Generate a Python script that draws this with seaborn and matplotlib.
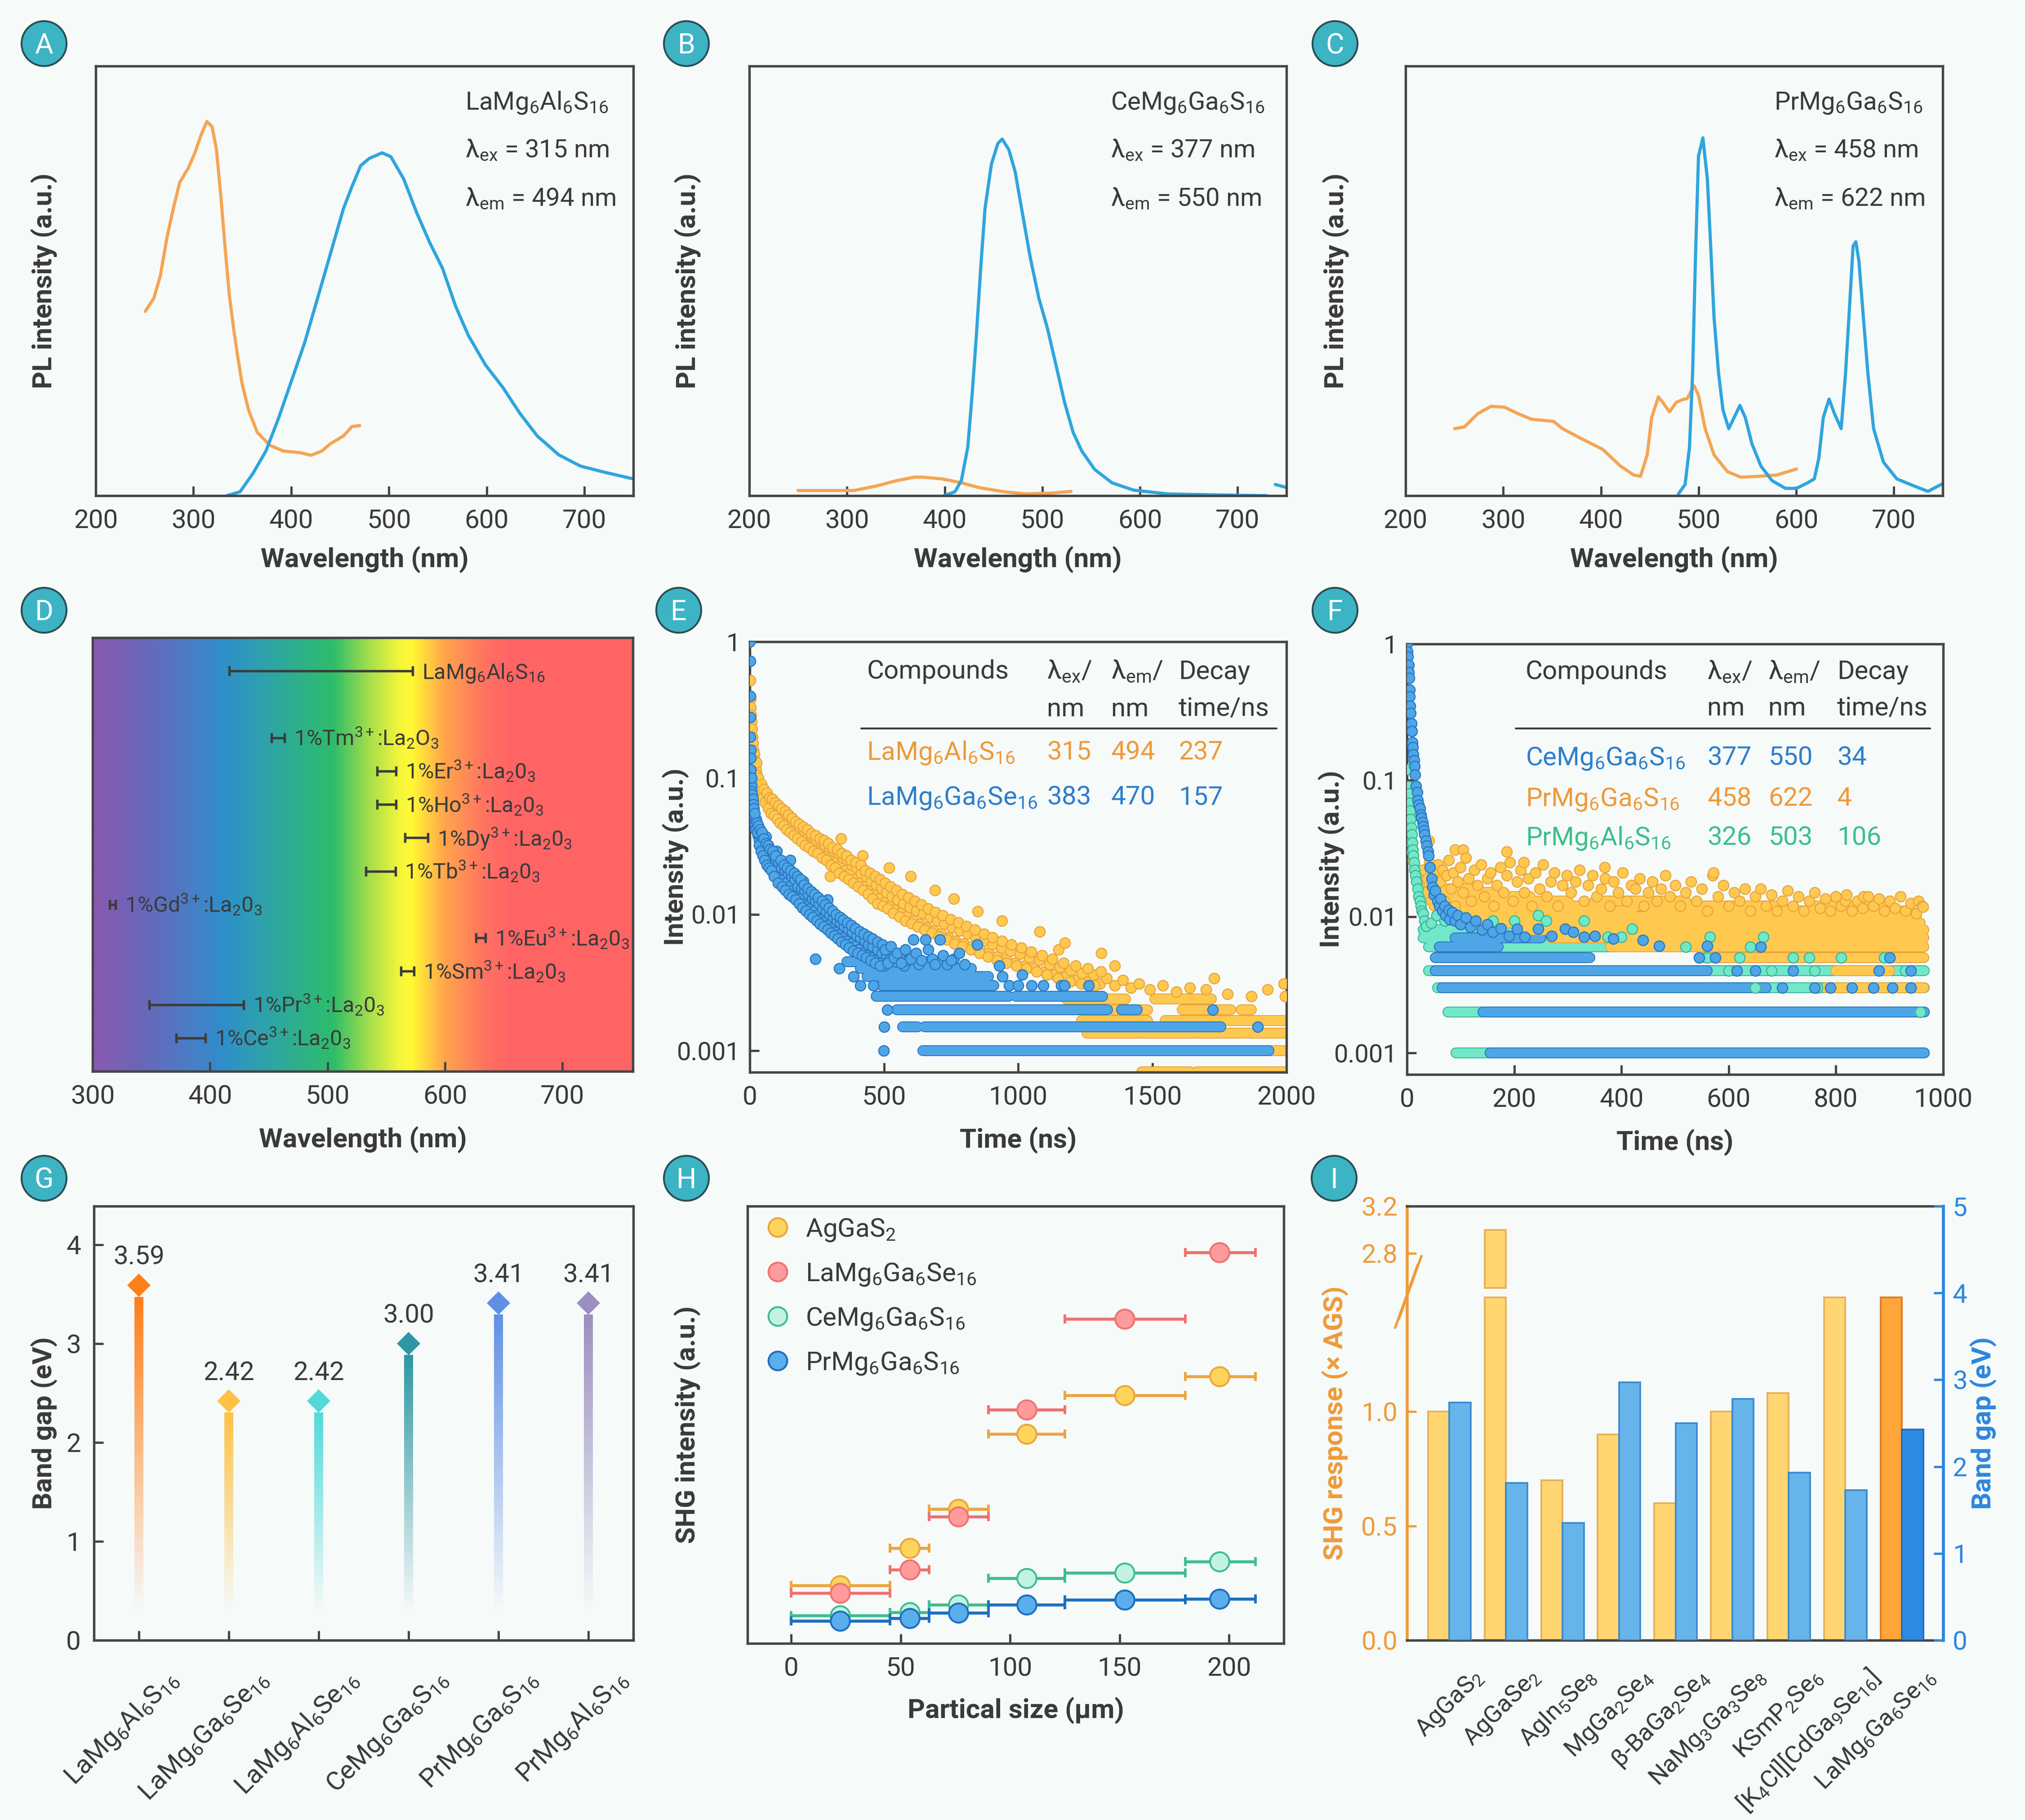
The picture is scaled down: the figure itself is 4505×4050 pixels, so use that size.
import numpy as np
import pandas as pd
import matplotlib
matplotlib.use('Agg')
import matplotlib.pyplot as plt
import matplotlib.transforms as mtrans
import seaborn as sns
from matplotlib.colors import LinearSegmentedColormap, to_rgb
from matplotlib.patches import Circle
from matplotlib.lines import Line2D
from matplotlib.ticker import NullLocator

# ---------------- data ----------------
# A-C  PL spectra: wavelength (nm) / normalised intensity (a.u.)
A_EXC_X = [250.7, 259.5, 266.1, 272.7, 279.3, 285.9, 294.8, 301.4, 308.0, 313.7, 319.0, 323.4, 327.8, 332.2, 336.6,
           341.0, 345.4, 349.8, 356.4, 365.3, 378.5, 391.7, 409.3, 420.3, 431.4, 440.2, 453.4, 462.2, 470.1]
A_EXC_Y = [0.429, 0.460, 0.512, 0.599, 0.668, 0.729, 0.763, 0.798, 0.841, 0.871, 0.859, 0.807, 0.703, 0.581, 0.468,
           0.390, 0.321, 0.260, 0.199, 0.147, 0.117, 0.104, 0.100, 0.094, 0.104, 0.121, 0.139, 0.161, 0.163]
A_EM_X = [334, 347.6, 360.9, 374.1, 387.3, 400.5, 413.7, 427, 440.2, 453.4, 462.2, 471, 479.8, 493, 501.9, 515.1,
          528.3, 541.5, 554.8, 568, 581.2, 598.8, 616.5, 634.1, 651.7, 673.7, 695.8, 717.8, 750]
A_EM_Y = [0.0, 0.009, 0.052, 0.104, 0.182, 0.269, 0.356, 0.460, 0.564, 0.668, 0.720, 0.768, 0.785, 0.798, 0.789, 0.737,
          0.659, 0.590, 0.529, 0.442, 0.373, 0.304, 0.252, 0.191, 0.139, 0.095, 0.069, 0.056, 0.039]

B_EXC_X = [249.8, 307, 329, 351, 368.7, 377.5, 397.5, 417.1, 434.7, 461.2, 483.2, 509.6, 529.4]
B_EXC_Y = [0.012, 0.012, 0.022, 0.035, 0.043, 0.043, 0.039, 0.030, 0.019, 0.009, 0.004, 0.006, 0.010]
B_EM_X = [399.5, 410.5, 417.1, 423.7, 428.1, 432.5, 436.9, 441.3, 447.9, 454.5, 458.9, 465.6, 472.2, 478.8, 487.6,
          496.4, 505.2, 514, 522.8, 531.6, 540.4, 553.6, 571.3, 593.3, 628.5, 672.6, 729.8]
B_EM_Y = [0.0, 0.009, 0.035, 0.113, 0.234, 0.373, 0.529, 0.668, 0.772, 0.820, 0.830, 0.806, 0.754, 0.668, 0.555,
          0.460, 0.390, 0.304, 0.217, 0.147, 0.104, 0.061, 0.030, 0.013, 0.004, 0.002, 0.0]
B_TAIL_X = [738.6, 750]
B_TAIL_Y = [0.026, 0.019]

C_EXC_X = [250.2, 260.2, 273.9, 287.6, 301.3, 315, 328.7, 351.5, 360.7, 378.9, 401.7, 420, 433.7, 440.5, 447.4, 452,
           458.8, 463.4, 470.2, 477.1, 484, 488.4, 495.3, 499.9, 506.7, 515.8, 529.5, 543.2, 561.5, 579.7, 600.3]
C_EXC_Y = [0.156, 0.160, 0.191, 0.208, 0.206, 0.191, 0.178, 0.173, 0.156, 0.134, 0.108, 0.069, 0.048, 0.045, 0.095,
           0.182, 0.230, 0.217, 0.195, 0.217, 0.224, 0.226, 0.256, 0.234, 0.156, 0.095, 0.056, 0.043, 0.045, 0.048, 0.062]
C_EM_X = [479.3, 486.2, 490.7, 493.9, 496.7, 499.9, 504.4, 509, 512.2, 515.8, 520.4, 525, 530.9, 536.4, 542.3, 547.8,
          554.6, 563.8, 575.2, 588.9, 600.3, 611.7, 618.5, 623.1, 627.7, 633.6, 639.1, 646, 650.5, 655.1, 658.2, 661,
          664.2, 668.7, 673.3, 679.2, 689.3, 703, 721.2, 734.9, 750]
C_EM_Y = [0.004, 0.026, 0.113, 0.286, 0.546, 0.790, 0.833, 0.737, 0.590, 0.416, 0.286, 0.199, 0.156, 0.182, 0.210,
          0.182, 0.121, 0.069, 0.035, 0.017, 0.017, 0.030, 0.039, 0.087, 0.182, 0.225, 0.191, 0.156, 0.286, 0.460,
          0.581, 0.591, 0.546, 0.416, 0.286, 0.156, 0.078, 0.039, 0.022, 0.010, 0.028]

SPEC_INFO = [('LaMg$_6$Al$_6$S$_{16}$', 315, 494), ('CeMg$_6$Ga$_6$S$_{16}$', 377, 550), ('PrMg$_6$Ga$_6$S$_{16}$', 458, 622)]

# D  emission ranges (nm)
D_LABELS = ['LaMg$_6$Al$_6$S$_{16}$', '1%Tm$^{3+}$:La$_2$O$_3$', '1%Er$^{3+}$:La$_2$0$_3$', '1%Ho$^{3+}$:La$_2$0$_3$',
            '1%Dy$^{3+}$:La$_2$0$_3$', '1%Tb$^{3+}$:La$_2$0$_3$', '1%Gd$^{3+}$:La$_2$0$_3$', '1%Eu$^{3+}$:La$_2$0$_3$',
            '1%Sm$^{3+}$:La$_2$0$_3$', '1%Pr$^{3+}$:La$_2$0$_3$', '1%Ce$^{3+}$:La$_2$0$_3$']
D_ROW = [0, 2, 3, 4, 5, 6, 7, 8, 9, 10, 11]
D_LO = [416.3, 452.5, 542.4, 542.4, 565.8, 532.5, 314.6, 626.5, 562.5, 348.3, 371.3]
D_HI = [572.4, 463.4, 558.5, 558.5, 585.6, 557.8, 319.4, 634.6, 573.5, 428.7, 396.2]
RAINBOW = [(300, '#8A5AB0'), (340, '#6A66B9'), (380, '#4C7CC5'), (410, '#2F8ECB'), (445, '#2EA2AC'),
           (475, '#2DB08A'), (505, '#2EBD6A'), (535, '#A3DE4C'), (562, '#F5F63A'), (572, '#FFF933'),
           (600, '#FFA54B'), (635, '#FF7262'), (655, '#FF6565'), (760, '#FF6464')]

# E  decay (time ns, normalised intensity)
E_BLUE_PTS = [(0, 1.0), (1, 0.72), (1, 0.40), (2, 0.28), (2, 0.20), (3, 0.16), (4, 0.115), (5, 0.10), (6, 0.088),
              (7, 0.08), (8, 0.072), (10, 0.066), (12, 0.06), (14, 0.055), (16, 0.051), (18, 0.048), (20, 0.046),
              (23, 0.05), (25, 0.042), (28, 0.045), (30, 0.038), (33, 0.041), (36, 0.035), (40, 0.038), (43, 0.032),
              (47, 0.036), (50, 0.03), (54, 0.033), (58, 0.028), (60, 0.037), (62, 0.031), (66, 0.026), (70, 0.03),
              (74, 0.025), (78, 0.028), (83, 0.023), (88, 0.027), (92, 0.022), (97, 0.025), (100, 0.029), (102, 0.02),
              (108, 0.024), (110, 0.018), (113, 0.019), (118, 0.022), (124, 0.018), (130, 0.021), (136, 0.017),
              (142, 0.02), (148, 0.016), (150, 0.025), (155, 0.019), (160, 0.015), (167, 0.018), (173, 0.014),
              (180, 0.016), (186, 0.013), (192, 0.0155), (198, 0.012), (200, 0.0175), (205, 0.015), (212, 0.0115),
              (218, 0.014), (225, 0.011), (232, 0.013), (238, 0.0105), (245, 0.0125), (245, 0.0047), (252, 0.0098),
              (258, 0.012), (265, 0.0092), (272, 0.011), (278, 0.0088), (285, 0.0105), (290, 0.0128), (292, 0.0083),
              (298, 0.0099), (305, 0.0079), (312, 0.0095), (318, 0.0074), (325, 0.009), (332, 0.0071), (333, 0.004),
              (338, 0.0086), (345, 0.0067), (352, 0.0082), (360, 0.0064), (367, 0.0078), (375, 0.0061), (382, 0.0074),
              (387, 0.0035), (390, 0.0058), (398, 0.007), (405, 0.0055), (412, 0.0067), (412, 0.003), (420, 0.0052),
              (428, 0.0064), (435, 0.005), (443, 0.006), (450, 0.0048), (458, 0.0058), (460, 0.003), (466, 0.0046),
              (475, 0.0055), (483, 0.0044), (492, 0.0052), (499, 0.001), (500, 0.0015), (500, 0.0042), (510, 0.005),
              (513, 0.002), (520, 0.0046), (530, 0.0054), (545, 0.0045), (560, 0.0049), (575, 0.0042), (590, 0.0046),
              (610, 0.0065), (630, 0.0043), (655, 0.0065), (680, 0.0047), (709, 0.0065), (735, 0.0043), (760, 0.0047),
              (800, 0.0043), (848, 0.006), (930, 0.0042), (941, 0.0035), (967, 0.003), (1000, 0.003), (1015, 0.0036),
              (1050, 0.003), (1093, 0.003), (1160, 0.003), (1173, 0.003), (1263, 0.003), (1725, 0.002), (1892, 0.0015),
              (4, 0.14), (6, 0.1), (9, 0.076), (11, 0.07), (13, 0.064), (15, 0.06), (19, 0.055), (22, 0.042),
              (26, 0.047), (29, 0.04), (32, 0.045), (35, 0.032), (38, 0.042), (42, 0.029), (45, 0.04), (49, 0.027),
              (52, 0.036), (56, 0.025), (60, 0.033), (64, 0.023), (68, 0.032), (72, 0.022), (76, 0.03), (80, 0.021),
              (85, 0.029), (90, 0.019), (95, 0.027), (105, 0.017), (115, 0.025), (121, 0.016), (127, 0.023),
              (133, 0.015), (139, 0.022), (145, 0.014), (152, 0.021), (158, 0.0135), (165, 0.02), (171, 0.0128),
              (178, 0.019), (184, 0.012), (190, 0.018), (196, 0.0112), (203, 0.0165), (209, 0.0106), (216, 0.0155),
              (222, 0.01), (229, 0.0147), (235, 0.0095), (242, 0.014), (249, 0.009), (255, 0.0133), (262, 0.0085),
              (269, 0.0125), (275, 0.0081), (282, 0.0118), (289, 0.0077), (295, 0.0112), (302, 0.0073),
              (309, 0.0106), (315, 0.007), (322, 0.01), (329, 0.0066), (336, 0.0095), (342, 0.0063), (349, 0.0091),
              (356, 0.006), (363, 0.0087), (370, 0.0057), (378, 0.0083), (386, 0.0054), (394, 0.0079), (402, 0.0052),
              (410, 0.0075), (418, 0.005), (426, 0.0072), (434, 0.0048), (442, 0.0069), (450, 0.0046), (458, 0.0066),
              (467, 0.0044), (476, 0.0063), (485, 0.0042), (494, 0.006), (504, 0.0055), (515, 0.0044), (526, 0.0058),
              (537, 0.0048), (550, 0.0052), (565, 0.0044), (580, 0.0055), (600, 0.0047), (620, 0.0052), (640, 0.0046),
              (665, 0.0055), (690, 0.0043), (720, 0.005), (750, 0.0046), (780, 0.0052)]
E_ORANGE_PTS = [(2, 0.52), (3, 0.38), (4, 0.33), (5, 0.29), (6, 0.26), (8, 0.23), (10, 0.2), (12, 0.18), (14, 0.16),
                (16, 0.15), (18, 0.135), (21, 0.125), (24, 0.115), (27, 0.105), (30, 0.098), (34, 0.09), (38, 0.085),
                (42, 0.08), (46, 0.086), (50, 0.074), (55, 0.079), (60, 0.069), (65, 0.074), (70, 0.064), (75, 0.069),
                (80, 0.06), (86, 0.066), (92, 0.057), (98, 0.062), (104, 0.054), (110, 0.059), (116, 0.051),
                (122, 0.056), (128, 0.048), (134, 0.053), (140, 0.046), (147, 0.05), (154, 0.043), (160, 0.047),
                (167, 0.041), (174, 0.045), (181, 0.039), (188, 0.043), (195, 0.037), (202, 0.041), (210, 0.035),
                (217, 0.039), (224, 0.034), (232, 0.037), (240, 0.032), (248, 0.035), (256, 0.03), (264, 0.034),
                (272, 0.029), (280, 0.032), (288, 0.027), (296, 0.031), (300, 0.019), (305, 0.026), (313, 0.029),
                (322, 0.024), (330, 0.028), (340, 0.036), (338, 0.023), (346, 0.026), (355, 0.021), (363, 0.025),
                (372, 0.02), (380, 0.023), (390, 0.018), (398, 0.022), (407, 0.017), (416, 0.02), (420, 0.027),
                (425, 0.016), (434, 0.019), (443, 0.015), (452, 0.0175), (461, 0.014), (470, 0.0165), (480, 0.013),
                (490, 0.0155), (500, 0.0122), (510, 0.0145), (520, 0.0115), (520, 0.022), (530, 0.0135), (540, 0.0108),
                (551, 0.0128), (562, 0.0102), (573, 0.012), (585, 0.0096), (597, 0.0113), (600, 0.019), (609, 0.009),
                (621, 0.0107), (633, 0.0085), (646, 0.0101), (659, 0.008), (672, 0.0095), (685, 0.0076), (690, 0.015),
                (698, 0.009), (712, 0.0072), (726, 0.0085), (740, 0.0068), (754, 0.008), (760, 0.013), (768, 0.0064),
                (782, 0.0076), (797, 0.0061), (812, 0.0072), (827, 0.0058), (842, 0.0068), (850, 0.0105),
                (857, 0.0055), (873, 0.0064), (889, 0.0052), (905, 0.006), (921, 0.0049), (938, 0.0057), (940, 0.009),
                (955, 0.0047), (972, 0.0054), (989, 0.0044), (1006, 0.0051), (1024, 0.0042), (1042, 0.0048),
                (1060, 0.004), (1079, 0.0046), (1080, 0.0075), (1098, 0.0038), (1117, 0.0043), (1136, 0.0036),
                (1150, 0.0055), (1156, 0.0041), (1175, 0.0062), (1176, 0.0035), (1196, 0.0039), (1217, 0.0033),
                (1238, 0.0037), (1260, 0.0032), (1282, 0.0036), (1305, 0.0031), (1310, 0.0052), (1330, 0.0034),
                (1360, 0.0042), (1360, 0.003), (1390, 0.0033), (1420, 0.0029), (1450, 0.0031), (1490, 0.0028),
                (1540, 0.003), (1590, 0.0027), (1640, 0.0029), (1700, 0.0028), (1730, 0.0034), (1780, 0.0026),
                (1870, 0.0025), (1930, 0.0028), (1990, 0.0031), (1995, 0.0025),
                (25, 0.13), (32, 0.1), (36, 0.078), (44, 0.09), (48, 0.072), (52, 0.083), (57, 0.066), (63, 0.078),
                (68, 0.06), (73, 0.072), (78, 0.055), (84, 0.07), (90, 0.053), (96, 0.066), (102, 0.05), (107, 0.063),
                (113, 0.047), (119, 0.06), (126, 0.045), (132, 0.057), (138, 0.042), (144, 0.054), (151, 0.04),
                (157, 0.051), (164, 0.038), (171, 0.048), (178, 0.036), (185, 0.046), (192, 0.034), (199, 0.044),
                (206, 0.032), (214, 0.042), (221, 0.031), (229, 0.039), (237, 0.029), (245, 0.038), (253, 0.028),
                (261, 0.036), (269, 0.026), (277, 0.035), (285, 0.025), (293, 0.033), (301, 0.023), (309, 0.031),
                (318, 0.022), (326, 0.03), (334, 0.02), (343, 0.028), (351, 0.019), (360, 0.027), (368, 0.018),
                (377, 0.025), (386, 0.017), (395, 0.024), (404, 0.016), (413, 0.023), (422, 0.015), (431, 0.021),
                (440, 0.014), (449, 0.02), (458, 0.013), (467, 0.019), (476, 0.012), (486, 0.018), (495, 0.0115),
                (505, 0.017), (515, 0.011), (525, 0.016), (535, 0.0102), (546, 0.015), (557, 0.0096), (568, 0.014),
                (579, 0.009), (591, 0.0133), (603, 0.0086), (615, 0.0125), (627, 0.0081), (640, 0.0118), (652, 0.0077),
                (665, 0.011), (678, 0.0073), (692, 0.0104), (705, 0.0069), (719, 0.0098), (733, 0.0065), (748, 0.0092),
                (763, 0.0061), (778, 0.0087), (793, 0.0058), (808, 0.0082), (824, 0.0055), (840, 0.0077),
                (856, 0.0052), (872, 0.0072), (888, 0.0049), (905, 0.0068), (922, 0.0046), (939, 0.0064),
                (957, 0.0044), (975, 0.006), (993, 0.0042), (1011, 0.0057), (1030, 0.004), (1049, 0.0053),
                (1068, 0.0038), (1088, 0.005), (1108, 0.0036), (1128, 0.0047), (1149, 0.0034), (1170, 0.0044),
                (1192, 0.0032), (1214, 0.0042), (1237, 0.0031), (1260, 0.004), (1284, 0.003), (1308, 0.0038)]
E_ORANGE_BANDS = [(0.0007, 1460, 1640), (0.0007, 1665, 2000), (0.001, 1935, 2000), (0.00135, 1257, 1444),
                  (0.00135, 1457, 1650), (0.00135, 1663, 1843), (0.00135, 1856, 2000), (0.00167, 1237, 1482),
                  (0.00167, 1547, 1663), (0.00167, 1676, 2000), (0.002, 1353, 1482), (0.002, 1612, 1792),
                  (0.002, 1830, 1870), (0.0024, 1180, 1400), (0.0024, 1510, 1720)]
E_BLUE_BANDS = [(0.001, 645, 1935), (0.0015, 570, 625), (0.0015, 651, 1755), (0.002, 548, 1334),
                (0.002, 1386, 1444), (0.0025, 470, 965), (0.0025, 992, 1315), (0.003, 490, 910), (0.0035, 438, 890),
                (0.004, 412, 825), (0.0045, 361, 700)]
E_TABLE = [('LaMg$_6$Al$_6$S$_{16}$', '315', '494', '237'), ('LaMg$_6$Ga$_6$Se$_{16}$', '383', '470', '157')]

# F  decay
F_BLUE_PTS = [(0, 1.0), (1, 0.88), (2, 0.81), (3, 0.70), (3, 0.62), (4, 0.56), (5, 0.46), (5, 0.41), (6, 0.35),
              (7, 0.31), (8, 0.26), (9, 0.23), (10, 0.19), (11, 0.175), (12, 0.155), (13, 0.14), (14, 0.127),
              (15, 0.11), (17, 0.091), (19, 0.082), (20, 0.071), (22, 0.066), (24, 0.062), (26, 0.056), (27, 0.053),
              (29, 0.049), (30, 0.046), (32, 0.043), (33, 0.04), (35, 0.036), (37, 0.033), (39, 0.03), (40, 0.028),
              (43, 0.023), (46, 0.019), (48, 0.0165), (50, 0.0145), (53, 0.0155), (57, 0.013), (60, 0.012),
              (63, 0.0135), (66, 0.011), (70, 0.012), (72, 0.0102), (78, 0.0112), (80, 0.0095), (85, 0.0108),
              (90, 0.0093), (95, 0.0102), (100, 0.0088), (110, 0.0098), (118, 0.0084), (128, 0.0093), (140, 0.008),
              (150, 0.0088), (160, 0.0077), (175, 0.0082), (190, 0.0072), (205, 0.0081), (220, 0.0071), (245, 0.0081),
              (270, 0.0072), (295, 0.0081), (310, 0.0077), (330, 0.0071), (350, 0.0072), (385, 0.0069),
              (440, 0.0067), (470, 0.0061), (560, 0.0061), (545, 0.005), (575, 0.005), (660, 0.006), (700, 0.003),
              (760, 0.003), (790, 0.003), (830, 0.003), (870, 0.003), (905, 0.003), (940, 0.003), (615, 0.004),
              (650, 0.004), (720, 0.004), (900, 0.005), (880, 0.004), (940, 0.004)]
F_TEAL_PTS = [(2, 0.12), (3, 0.09), (4, 0.08), (5, 0.068), (6, 0.06), (7, 0.052), (8, 0.045), (9, 0.04), (10, 0.035),
              (11, 0.031), (12, 0.028), (13, 0.025), (14, 0.022), (16, 0.02), (18, 0.018), (20, 0.016), (22, 0.014),
              (24, 0.013), (26, 0.012), (28, 0.011), (30, 0.0105), (33, 0.0093), (36, 0.0085), (45, 0.009),
              (55, 0.0102), (70, 0.0093), (90, 0.0102), (100, 0.0093), (160, 0.0093), (200, 0.0093), (245, 0.0102),
              (260, 0.0093), (330, 0.0093), (375, 0.0071), (400, 0.0071), (420, 0.0081), (520, 0.006), (565, 0.0071),
              (640, 0.006), (665, 0.0071), (560, 0.005), (620, 0.005), (720, 0.005), (750, 0.005), (810, 0.005),
              (890, 0.005), (600, 0.004), (680, 0.004), (760, 0.004), (930, 0.004), (650, 0.003), (765, 0.003),
              (957, 0.002)]
F_ORANGE_PTS = [(2, 0.06), (4, 0.05), (6, 0.042), (8, 0.035), (10, 0.03), (12, 0.026), (15, 0.023), (18, 0.02),
                (22, 0.018), (26, 0.016), (30, 0.022), (34, 0.015), (38, 0.019), (41, 0.036), (42, 0.025),
                (46, 0.017), (50, 0.021), (54, 0.014), (58, 0.024), (62, 0.018), (66, 0.022), (70, 0.013), (74, 0.02),
                (78, 0.026), (82, 0.016), (86, 0.021), (90, 0.031), (90, 0.012), (95, 0.018), (100, 0.023),
                (105, 0.031), (105, 0.015), (110, 0.027), (115, 0.019), (120, 0.013), (126, 0.022), (132, 0.017),
                (138, 0.024), (144, 0.014), (150, 0.019), (156, 0.021), (162, 0.012), (168, 0.017), (174, 0.023),
                (180, 0.015), (186, 0.03), (186, 0.02), (192, 0.025), (198, 0.013), (205, 0.018), (212, 0.022),
                (218, 0.025), (219, 0.015), (226, 0.019), (233, 0.012), (240, 0.021), (247, 0.016), (254, 0.024),
                (261, 0.014), (268, 0.018), (275, 0.021), (282, 0.012), (290, 0.017), (298, 0.02), (306, 0.015),
                (314, 0.018), (322, 0.022), (330, 0.013), (338, 0.017), (346, 0.02), (354, 0.014), (362, 0.016),
                (369, 0.023), (370, 0.019), (378, 0.012), (386, 0.018), (394, 0.015), (402, 0.021), (410, 0.013),
                (418, 0.017), (426, 0.016), (434, 0.019), (442, 0.012), (450, 0.015), (458, 0.018), (466, 0.013),
                (474, 0.016), (482, 0.02), (490, 0.014), (500, 0.017), (510, 0.012), (520, 0.015), (530, 0.018),
                (540, 0.013), (550, 0.016), (560, 0.011), (570, 0.02), (572, 0.021), (580, 0.014), (590, 0.017),
                (600, 0.012), (610, 0.015), (620, 0.013), (630, 0.016), (640, 0.011), (650, 0.014), (660, 0.016),
                (670, 0.012), (680, 0.0145), (690, 0.011), (700, 0.013), (710, 0.0155), (720, 0.012), (730, 0.014),
                (740, 0.011), (750, 0.013), (760, 0.015), (770, 0.0115), (780, 0.0135), (790, 0.011), (800, 0.014),
                (810, 0.012), (817, 0.013), (820, 0.0145), (830, 0.011), (840, 0.013), (850, 0.0115), (852, 0.014),
                (860, 0.014), (870, 0.012), (880, 0.0135), (890, 0.011), (900, 0.013), (910, 0.0115), (920, 0.014),
                (930, 0.011), (940, 0.0125), (950, 0.0105), (954, 0.013), (961, 0.012), (962, 0.0118)]
F_TEAL_BANDS = [(0.001, 91, 965), (0.002, 76, 965), (0.003, 57, 965), (0.004, 40, 965), (0.006, 40, 380),
                (0.007, 30, 330), (0.008, 30, 200)]
F_BLUE_BANDS = [(0.001, 155, 965), (0.002, 142, 965), (0.003, 65, 670), (0.004, 53, 560), (0.005, 53, 341),
                (0.006, 60, 170), (0.007, 90, 250)]
F_ORANGE_BANDS = [(0.003, 780, 964), (0.004, 800, 900), (0.005, 553, 964), (0.006, 380, 964), (0.007, 270, 964),
                  (0.008, 213, 964), (0.009, 123, 957), (0.010, 100, 950), (0.011, 60, 420), (0.011, 450, 940),
                  (0.012, 50, 380), (0.012, 420, 700), (0.012, 760, 900), (0.013, 45, 300), (0.013, 350, 520),
                  (0.014, 45, 230), (0.015, 45, 160), (0.016, 45, 120)]
F_TABLE = [('CeMg$_6$Ga$_6$S$_{16}$', '377', '550', '34'), ('PrMg$_6$Ga$_6$S$_{16}$', '458', '622', '4'),
           ('PrMg$_6$Al$_6$S$_{16}$', '326', '503', '106')]

# G  band gaps
G_NAMES = ['LaMg$_6$Al$_6$S$_{16}$', 'LaMg$_6$Ga$_6$Se$_{16}$', 'LaMg$_6$Al$_6$Se$_{16}$', 'CeMg$_6$Ga$_6$S$_{16}$',
           'PrMg$_6$Ga$_6$S$_{16}$', 'PrMg$_6$Al$_6$S$_{16}$']
G_GAP = [3.59, 2.42, 2.42, 3.00, 3.41, 3.41]
G_COLORS = ['#FF7F1A', '#FFC145', '#52DADA', '#2E97A3', '#6090E6', '#9A8FC0']

# H  SHG vs particle size
H_SIZE = [22.4, 54.1, 76.3, 107.6, 152.4, 195.7]
H_LO = [0, 45, 63, 90, 125, 180]
H_HI = [45, 63, 90, 125, 180, 212]
H_SERIES = {
    'AgGaS$_2$': [13.3, 21.8, 30.7, 47.9, 56.7, 61.0],
    'LaMg$_6$Ga$_6$Se$_{16}$': [11.5, 16.9, 29.0, 53.4, 74.2, 89.4],
    'CeMg$_6$Ga$_6$S$_{16}$': [6.4, 7.1, 8.8, 14.9, 16.1, 18.7],
    'PrMg$_6$Ga$_6$S$_{16}$': [5.1, 5.8, 7.0, 8.8, 10.0, 10.2],
}

# I  SHG response and band gap
I_NAMES = ['AgGaS$_2$', 'AgGaSe$_2$', 'AgIn$_5$Se$_8$', 'MgGa$_2$Se$_4$', 'β-BaGa$_2$Se$_4$',
           'NaMg$_3$Ga$_3$Se$_8$', 'KSmP$_2$Se$_6$', '[K$_4$Cl][CdGa$_9$Se$_{16}$]', 'LaMg$_6$Ga$_6$Se$_{16}$']
I_SHG = [1.0, 3.0, 0.70, 0.90, 0.60, 1.0, 1.08, 1.5, 1.5]
I_GAP = [2.74, 1.81, 1.35, 2.97, 2.50, 2.78, 1.93, 1.73, 2.43]

# ---------------- style ----------------
W, H = 4505, 4050
BG = '#F6FAF9'
INK = '#3A3A3A'
SPINE = '#454545'
OR_LINE = '#F5A554'
BL_LINE = '#2FA5DD'
TXT_OR = '#EE9A3A'
TXT_BL = '#2D7FCC'
TXT_GR = '#3CBF8C'

sns.set_theme(style='ticks')
plt.rcParams['font.family'] = ['Roboto', 'DejaVu Sans']
plt.rcParams.update({
    'mathtext.fontset': 'custom', 'mathtext.rm': 'Roboto', 'mathtext.it': 'Roboto',
    'mathtext.bf': 'Roboto:bold', 'text.color': INK, 'axes.labelcolor': INK,
    'axes.labelsize': 14.5, 'axes.labelweight': 'bold',
})

fig = plt.figure(figsize=(W / 300, H / 300), dpi=300, facecolor=BG)


def add_ax(box):
    l, t, r, b = box
    ax = fig.add_axes([l / W, 1 - b / H, (r - l) / W, (b - t) / H])
    ax.set_facecolor(BG)
    for s in ax.spines.values():
        s.set_color(SPINE)
        s.set_linewidth(1.3)
    ax.tick_params(direction='in', length=5, width=1.2, color=SPINE, labelsize=14, labelcolor=INK, pad=7)
    return ax


def shift_labels(ax, dx, dy):
    off = mtrans.ScaledTranslation(dx / 72, dy / 72, fig.dpi_scale_trans)
    for lab in ax.get_xticklabels():
        lab.set_transform(lab.get_transform() + off)


# ---------------- A, B, C ----------------
spec_boxes = [(213, 147, 1409, 1103), (1667, 147, 2862, 1103), (3127, 147, 4322, 1103)]
spec_data = [((A_EXC_X, A_EXC_Y), (A_EM_X, A_EM_Y)), ((B_EXC_X, B_EXC_Y), (B_EM_X, B_EM_Y)),
             ((C_EXC_X, C_EXC_Y), (C_EM_X, C_EM_Y))]
text_x = [0.6875, 0.673, 0.686]
ylab_x = [-0.070, -0.089, -0.104]
for k in range(3):
    ax = add_ax(spec_boxes[k])
    (ex, ey), (mx, my) = spec_data[k]
    sns.lineplot(x=ex, y=ey, sort=False, color=OR_LINE, linewidth=1.7, ax=ax)
    sns.lineplot(x=mx, y=my, sort=False, color=BL_LINE, linewidth=1.7, ax=ax)
    if k == 1:
        sns.lineplot(x=B_TAIL_X, y=B_TAIL_Y, sort=False, color=BL_LINE, linewidth=1.7, ax=ax)
    ax.set_xlim(200, 750)
    ax.set_ylim(0, 1)
    ax.set_xticks([200, 300, 400, 500, 600, 700])
    ax.set_yticks([])
    ax.set_xlabel('Wavelength (nm)')
    ax.set_ylabel('PL intensity (a.u.)')
    ax.xaxis.set_label_coords(0.5, -0.118)
    ax.yaxis.set_label_coords(ylab_x[k], 0.5)
    name, lex, lem = SPEC_INFO[k]
    ax.text(text_x[k], 0.899, name, transform=ax.transAxes, fontsize=13.5, va='baseline')
    ax.text(text_x[k], 0.787, f'λ$_{{ex}}$ = {lex} nm', transform=ax.transAxes, fontsize=13.5, va='baseline')
    ax.text(text_x[k], 0.674, f'λ$_{{em}}$ = {lem} nm', transform=ax.transAxes, fontsize=13.5, va='baseline')

# ---------------- D ----------------
ax = add_ax((206, 1419, 1408, 2384))
cmap = LinearSegmentedColormap.from_list('vis', [((w - 300) / 460, c) for w, c in RAINBOW])
ax.imshow(np.linspace(0, 1, 600)[None, :], extent=[300, 760, 12, -1], aspect='auto', cmap=cmap,
          interpolation='bilinear', zorder=0)
lo = np.array(D_LO)
hi = np.array(D_HI)
ax.errorbar((lo + hi) / 2, D_ROW, xerr=(hi - lo) / 2, fmt='none', ecolor='#3C3C3C', elinewidth=1.3,
            capsize=2.6, capthick=1.3, zorder=3)
for lab, r, h in zip(D_LABELS, D_ROW, D_HI):
    ax.annotate(lab, xy=(h, r), xytext=(5, -4.2), textcoords='offset points', fontsize=11.6, va='baseline',
                color=INK, zorder=4)
ax.set_xlim(300, 760)
ax.set_ylim(12, -1)
ax.set_yticks([])
ax.set_xticks([300, 400, 500, 600, 700])
ax.set_xlabel('Wavelength (nm)')
ax.xaxis.set_label_coords(0.5, -0.127)


# ---------------- E, F ----------------
def draw_bands(ax, bands, face, edge, z):
    for lev, t0, t1 in bands:
        ax.plot([t0, t1], [lev, lev], color=edge, lw=5.8, solid_capstyle='round', zorder=z)
        ax.plot([t0, t1], [lev, lev], color=face, lw=4.8, solid_capstyle='round', zorder=z + 0.01)


def draw_pts(ax, pts, face, edge, z):
    df = pd.DataFrame(pts, columns=['t', 'I'])
    sns.scatterplot(data=df, x='t', y='I', s=31, color=face, edgecolor=edge, linewidth=0.6, ax=ax, zorder=z,
                    legend=False)


def decay_axes(ax, xmax, xticks, ylab_x):
    ax.set_yscale('log')
    ax.set_xlim(0, xmax)
    ax.set_ylim(6.95e-4, 1.0)
    ax.set_yticks([1e-3, 1e-2, 1e-1, 1])
    ax.set_yticklabels(['0.001', '0.01', '0.1', '1'])
    ax.yaxis.set_minor_locator(NullLocator())
    ax.tick_params(axis='y', pad=5, labelsize=13.5)
    ax.set_xticks(xticks)
    ax.set_xlabel('Time (ns)')
    ax.set_ylabel('Intensity (a.u.)')
    ax.xaxis.set_label_coords(0.5, -0.127)
    ax.yaxis.set_label_coords(ylab_x, 0.5)


def decay_table(ax, cols, rows, colors, line, tab):
    xc, xe, xm, xd = cols
    y1, y2, yl, ys = rows
    kw = dict(transform=ax.transAxes, fontsize=14, va='baseline', zorder=6)
    ax.text(xc, y1, 'Compounds', **kw)
    ax.text(xe, y1, 'λ$_{ex}$/', **kw)
    ax.text(xm, y1, 'λ$_{em}$/', **kw)
    ax.text(xd, y1, 'Decay', **kw)
    ax.text(xe, y2, 'nm', **kw)
    ax.text(xm, y2, 'nm', **kw)
    ax.text(xd, y2, 'time/ns', **kw)
    ax.plot(line, [yl, yl], transform=ax.transAxes, color=INK, lw=1.0, zorder=6)
    for (nm, a, b, c), y, col in zip(tab, ys, colors):
        for x, s in zip(cols, (nm, a, b, c)):
            ax.text(x, y, s, color=col, **kw)


OR_FACE, OR_EDGE = '#FFC94F', '#E9A53E'
BL_FACE, BL_EDGE = '#4FA6E7', '#2A78C2'
TE_FACE, TE_EDGE = '#72E8C9', '#3AB896'

ax = add_ax((1668, 1428, 2862, 2386))
draw_bands(ax, E_ORANGE_BANDS, OR_FACE, OR_EDGE, 2)
draw_pts(ax, E_ORANGE_PTS, OR_FACE, OR_EDGE, 3)
draw_bands(ax, E_BLUE_BANDS, BL_FACE, BL_EDGE, 4)
draw_pts(ax, E_BLUE_PTS, BL_FACE, BL_EDGE, 5)
decay_axes(ax, 2000, [0, 500, 1000, 1500, 2000], -0.112)
decay_table(ax, (0.218, 0.554, 0.673, 0.799), (0.914, 0.827, 0.799, (0.726, 0.622)), (TXT_OR, TXT_BL),
            (0.2075, 0.9816), E_TABLE)

ax = add_ax((3130, 1433, 4323, 2391))
draw_bands(ax, F_TEAL_BANDS, TE_FACE, TE_EDGE, 2)
draw_bands(ax, F_BLUE_BANDS, BL_FACE, BL_EDGE, 2.5)
draw_bands(ax, F_ORANGE_BANDS, OR_FACE, OR_EDGE, 3)
draw_pts(ax, F_ORANGE_PTS, OR_FACE, OR_EDGE, 3.5)
draw_pts(ax, F_TEAL_PTS, TE_FACE, TE_EDGE, 4)
draw_pts(ax, F_BLUE_PTS, BL_FACE, BL_EDGE, 4.5)
decay_axes(ax, 1000, [0, 200, 400, 600, 800, 1000], -0.115)
decay_table(ax, (0.221, 0.560, 0.674, 0.802), (0.919, 0.834, 0.804, (0.719, 0.624, 0.533)),
            (TXT_BL, TXT_OR, TXT_GR), (0.203, 0.976), F_TABLE)

# ---------------- G ----------------
ax = add_ax((209, 2684, 1409, 3650))
for i, (v, c) in enumerate(zip(G_GAP, G_COLORS)):
    img = np.zeros((256, 1, 4))
    img[..., :3] = to_rgb(c)
    img[:, 0, 3] = np.linspace(0.0, 1.0, 256)
    ax.imshow(img, extent=[i - 0.05, i + 0.05, 0.28, v - 0.12], origin='lower', aspect='auto',
              interpolation='bilinear', zorder=2)
    ax.text(i, v + 0.21, f'{v:.2f}', ha='center', va='baseline', fontsize=14)
sns.scatterplot(x=list(range(6)), y=G_GAP, hue=G_NAMES, palette=G_COLORS, marker='D', s=78, edgecolor='none',
                legend=False, ax=ax, zorder=3)
ax.set_xlim(-0.5, 5.5)
ax.set_ylim(0, 4.39)
ax.set_yticks([0, 1, 2, 3, 4])
ax.set_xticks(range(6))
ax.set_xticklabels(G_NAMES, rotation=45, ha='right', va='center', rotation_mode='anchor', fontsize=14)
shift_labels(ax, 19, -12)
ax.set_ylabel('Band gap (eV)')
ax.set_xlabel('')
ax.yaxis.set_label_coords(-0.067, 0.5)

# ---------------- H ----------------
ax = add_ax((1663, 2684, 2856, 3657))
h_style = [('#FFD45C', '#EBA63E', '#EBA53F'), ('#FF9B9B', '#F07373', '#EE7070'),
           ('#C2F3E2', '#3DBE8F', '#3DBE8F'), ('#5AAEEC', '#1D6FBF', '#1B6EC0')]
xs = np.array(H_SIZE)
xerr = [xs - np.array(H_LO), np.array(H_HI) - xs]
handles = []
for (name, vals), (fc, ec, erc) in zip(H_SERIES.items(), h_style):
    ax.errorbar(xs, vals, xerr=xerr, fmt='none', ecolor=erc, elinewidth=1.6, capsize=2.5, capthick=1.4, zorder=2)
for (name, vals), (fc, ec, erc) in zip(H_SERIES.items(), h_style):
    sns.scatterplot(x=H_SIZE, y=vals, s=105, color=fc, edgecolor=ec, linewidth=1.0, ax=ax, zorder=3,
                    legend=False)
    handles.append(Line2D([], [], ls='none', marker='o', ms=10, mfc=fc, mec=ec, mew=1.0, label=name))
ax.legend(handles=handles, loc='upper left', bbox_to_anchor=(0.032, 0.975), frameon=False, fontsize=14,
          labelspacing=0.7, handlelength=1.0, handletextpad=0.55, borderaxespad=0, borderpad=0,
          labelcolor=INK)
ax.set_xlim(-20, 225)
ax.set_ylim(0, 100)
ax.set_yticks([])
ax.set_xticks([0, 50, 100, 150, 200])
ax.set_xlabel('Partical size (μm)')
ax.set_ylabel('SHG intensity (a.u.)')
ax.xaxis.set_label_coords(0.5, -0.123)
ax.yaxis.set_label_coords(-0.086, 0.5)

# ---------------- I ----------------
BRK_LO, BRK_HI, GAP, UP = 1.5, 2.51, 0.0414, 0.5169


def fwd(v):
    v = np.asarray(v, dtype=float)
    return np.where(v <= BRK_LO, v,
                    np.where(v >= BRK_HI, BRK_LO + GAP + (v - BRK_HI) * UP,
                             BRK_LO + (v - BRK_LO) / (BRK_HI - BRK_LO) * GAP))


def inv(u):
    u = np.asarray(u, dtype=float)
    return np.where(u <= BRK_LO, u,
                    np.where(u >= BRK_LO + GAP, BRK_HI + (u - BRK_LO - GAP) / UP,
                             BRK_LO + (u - BRK_LO) / GAP * (BRK_HI - BRK_LO)))


SHG_OR = '#EE9B3B'
GAP_BL = '#2E86DE'
ax = add_ax((3130, 2684, 4323, 3650))
ax.set_yscale('function', functions=(fwd, inv))
x = np.arange(len(I_NAMES))
bw = 0.378
shg_face = ['#FFD672'] * 8 + ['#FFA53A']
shg_edge = ['#E8AE55'] * 8 + ['#E07A20']
ax.bar(x - bw / 2, np.minimum(I_SHG, BRK_LO), bw, color=shg_face, edgecolor=shg_edge, linewidth=0.9, zorder=2)
up = np.array(I_SHG) > BRK_LO + 1e-9
ax.bar((x - bw / 2)[up], (np.array(I_SHG) - BRK_HI)[up], bw, bottom=BRK_HI, color=np.array(shg_face)[up],
       edgecolor=np.array(shg_edge)[up], linewidth=0.9, zorder=2)
ax.set_ylim(0, 3.2)
ax.set_yticks([0, 0.5, 1.0, 2.8, 3.2])
ax.set_yticklabels(['0.0', '0.5', '1.0', '2.8', '3.2'])
ax.yaxis.set_minor_locator(NullLocator())
ax.set_xlim(-0.75, 8.73)
ax.tick_params(axis='y', colors=SHG_OR, labelcolor=SHG_OR, pad=5)
ax.spines['left'].set_color(SHG_OR)
ax.spines['left'].set_linewidth(1.6)
ax.spines['right'].set_visible(False)
ax.set_ylabel('SHG response (× AGS)', color=SHG_OR)
ax.yaxis.set_label_coords(-0.108, 0.5)
ax.set_xticks(x)
ax.set_xticklabels(I_NAMES, rotation=45, ha='right', va='center', rotation_mode='anchor', fontsize=13)
shift_labels(ax, 16, -11)
for dx, dy in [(0.0, 0.0), (0.007, 0.02)]:
    ax.plot([-0.022 + dx, 0.02 + dx], [0.72 + dy, 0.865 + dy], transform=ax.transAxes, color=SHG_OR, lw=1.3,
            clip_on=False, zorder=6)

ax2 = ax.twinx()
gap_face = ['#66B4EA'] * 8 + ['#2E8BE3']
gap_edge = ['#3A8AD0'] * 8 + ['#1F6FC0']
ax2.bar(x + bw / 2, I_GAP, bw, color=gap_face, edgecolor=gap_edge, linewidth=0.9, zorder=2)
ax2.set_ylim(0, 5)
ax2.set_yticks([0, 1, 2, 3, 4, 5])
ax2.tick_params(axis='y', direction='in', length=5, width=1.2, colors=GAP_BL, labelcolor=GAP_BL,
                labelsize=14, pad=5)
for s in ('left', 'top', 'bottom'):
    ax2.spines[s].set_visible(False)
ax2.spines['right'].set_color(GAP_BL)
ax2.spines['right'].set_linewidth(1.6)
ax2.set_ylabel('Band gap (eV)', color=GAP_BL)
ax2.yaxis.set_label_coords(1.050, 0.5)

# ---------------- panel letters ----------------
LETTERS = [('A', 98, 97), ('B', 1527, 97), ('C', 2970, 97), ('D', 98, 1358), ('E', 1510, 1358),
           ('F', 2970, 1358), ('G', 98, 2622), ('H', 1527, 2622), ('I', 2968, 2622)]
for letter, cx, cy in LETTERS:
    fig.add_artist(Circle((cx / 300, (H - cy) / 300), 50 / 300, transform=fig.dpi_scale_trans,
                          facecolor='#3CB4C4', edgecolor='#2C4E55', linewidth=1.0, zorder=10))
    fig.text(cx / W, 1 - (cy + 22) / H, letter, ha='center', va='baseline', color='white', fontsize=15,
             zorder=11)

fig.savefig('out.png', dpi=300, facecolor=BG)
